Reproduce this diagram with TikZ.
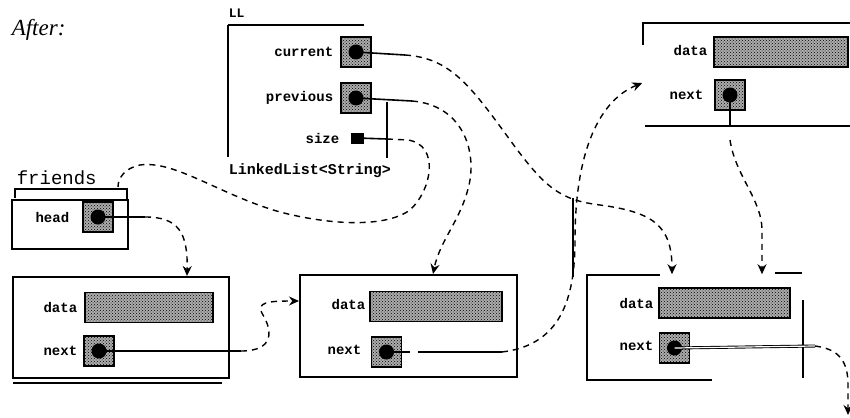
\documentclass[tikz,border=0pt]{standalone}
\usepackage{fontspec}
\setmainfont{Liberation Serif}
\newfontfamily\labfont{Liberation Mono}
\newfontfamily\monofont{Liberation Mono}
\usetikzlibrary{patterns,arrows.meta}
\begin{document}
\begin{tikzpicture}[x=1pt,y=-1pt,line width=1.6pt,
 ptrbox/.style={draw,line width=1.6pt,preaction={fill=gray!65},pattern=crosshatch dots,minimum width=30pt,minimum height=30pt,inner sep=0pt},
 strbox/.style={draw,line width=1.6pt,preaction={fill=gray!65},pattern=crosshatch dots,minimum height=30pt,inner sep=0pt},
 lab/.style={font=\labfont\bfseries\fontsize{14}{16}\selectfont,anchor=east,inner sep=0pt},
 objbox/.style={draw,line width=2pt,inner sep=0pt},
 hidbox/.style={inner sep=0pt},
 dsh/.style={line width=1.4pt,dash pattern=on 6pt off 5pt},
 tip/.style={-{Stealth[length=10pt,width=9pt]}},
 blob/.style={circle,fill=black,inner sep=0pt,minimum size=15pt}]
\useasboundingbox (0,0) rectangle (850,417);

\node[anchor=west,inner sep=0pt,font=\itshape\fontsize{23}{26}\selectfont] (after) at (11,30) {After:};

% ---- LL object
\node[anchor=west,inner sep=0pt,font=\labfont\bfseries\fontsize{13}{15}\selectfont] (lltitle) at (228,13) {LL};
\draw[line width=2pt] (228,25) -- (364,25);
\draw[line width=2pt] (228,25) -- (228,157);
\node[ptrbox] (cur) at (356,52) {};
\node[blob] (curD) at (cur.center) {};
\node[lab] (curL) at (334,52) {current};
\node[ptrbox] (prev) at (356,98) {};
\node[blob] (prevD) at (prev.center) {};
\node[lab] (prevL) at (334,98) {previous};
\node[fill=black,minimum width=13pt,minimum height=11pt,inner sep=0pt] (sz) at (357,138) {};
\node[lab] (szL) at (340,138) {size};
\node[anchor=west,inner sep=0pt,font=\labfont\bfseries\fontsize{15}{17}\selectfont] (llcls) at (228,171) {LinkedList<String>};
\draw[line width=1.6pt] (387,102) -- (387,158);

% ---- friends
\node[anchor=west,inner sep=0pt,font=\monofont\fontsize{19}{21}\selectfont] (frT) at (16,178) {friends};
\node[objbox,minimum width=116pt,minimum height=49pt] (fb) at (70,224.5) {};
\draw[line width=1.2pt] (15,198) -- (15,189) -- (127,189) -- (127,199);
\node[ptrbox] (fr) at (98,217) {};
\node[blob] (frD) at (fr.center) {};
\node[lab] (frL) at (70,217) {head};

% ---- node 1
\node[objbox,minimum width=216pt,minimum height=101pt] (n1) at (121,327.5) {};
\draw[line width=2pt] (13,383) -- (222,383);
\node[strbox,minimum width=128pt] (n1d) at (149,307.5) {};
\node[lab] (n1dL) at (78,307) {data};
\node[ptrbox] (n1n) at (99,351) {};
\node[blob] (n1nD) at (n1n.center) {};
\node[lab] (n1nL) at (78,351) {next};

% ---- node 2
\node[objbox,minimum width=217pt,minimum height=102pt] (n2) at (408.5,326) {};
\node[strbox,minimum width=132pt] (n2d) at (436,306.5) {};
\node[lab] (n2dL) at (366,304) {data};
\node[ptrbox] (n2n) at (386.5,352) {};
\node[blob] (n2nD) at (n2n.center) {};
\node[lab] (n2nL) at (362,350) {next};

% ---- node 0 (top right)
\node[hidbox,minimum width=207pt,minimum height=103pt] (n0) at (746.5,74.5) {};
\draw[line width=2pt] (643,45) -- (643,23) -- (850,23);
\draw[line width=2pt] (645,126) -- (850,126);
\node[strbox,minimum width=134pt] (n0d) at (781,52) {};
\node[lab] (n0dL) at (708,50) {data};
\node[ptrbox] (n0n) at (730,95) {};
\node[blob] (n0nD) at (n0n.center) {};
\node[lab] (n0nL) at (704,95) {next};

% ---- node 3
\node[hidbox,minimum width=216pt,minimum height=104pt] (n3) at (695,327) {};
\draw[line width=2pt] (660,275) -- (587,275) -- (587,380) -- (712,380);
\draw[line width=2pt] (775,273) -- (802,273);
\draw[line width=1.6pt] (803,300) -- (803,378);
\node[strbox,minimum width=131pt] (n3d) at (724.5,303) {};
\node[lab] (n3dL) at (654,303) {data};
\node[ptrbox] (n3n) at (674.5,348) {};
\node[blob] (n3nD) at (n3n.center) {};
\node[lab] (n3nL) at (654,346) {next};

% ---- connectors
\coordinate (frA) at (145,217);
\draw (frD.center) -- (frA);
\draw[dsh,tip] (frA) .. controls (178,217) and (188,232) .. ([xshift=175pt]n1.north west);

\coordinate (n1A) at (241,351);
\draw (n1nD.center) -- (n1A);
\draw[dsh,tip] (n1A) .. controls (275,351) and (272,330) .. (263,315)
  .. controls (255,302) and (268,301) .. ([yshift=25pt]n2.west);

\coordinate (n2A) at (410,352);
\coordinate (n2B) at (418,352);
\coordinate (n2C) at (502,352);
\draw (n2nD.center) -- (n2A);
\draw (n2B) -- (n2C);
\draw[dsh,tip] (n2C) .. controls (560,345) and (575,300) .. (575,240)
  .. controls (575,150) and (600,100) .. ([yshift=-8.5pt]n0.west);
\draw[line width=1.6pt] (573,198) -- (573,277);

\coordinate (n0A) at (730,140);
\draw (n0nD.center) -- (730,126);
\draw[dsh,tip] (n0A) .. controls (735,175) and (762,200) .. (762,230) -- ([xshift=67pt]n3.north);

\coordinate (curA) at (405,55);
\draw (curD.center) -- (curA);
\draw[dsh,tip] (curA) .. controls (450,58) and (470,85) .. (510,140)
  .. controls (545,188) and (560,200) .. (600,205)
  .. controls (652,212) and (672,225) .. ([xshift=-23pt]n3.north);

\coordinate (prevA) at (412,101);
\draw (prevD.center) -- (prevA);
\draw[dsh,tip] (prevA) .. controls (462,105) and (477,150) .. (469,185)
  .. controls (461,220) and (440,240) .. ([xshift=24.5pt]n2.north);

\coordinate (szA) at (387,139);
\draw (sz.center) -- (szA);
\draw[dsh] (szA) -- (408,140) .. controls (440,145) and (432,190) .. (410,210)
  .. controls (385,228) and (330,225) .. (280,212)
  .. controls (220,195) and (175,160) .. (140,165)
  .. controls (125,168) and (118,178) .. ([xshift=-11pt,yshift=12pt]fb.north east);

\coordinate (n3A) at (815,346);
\coordinate (nullP) at (848,415);
\draw[double,double distance=1.2pt,line width=0.9pt] (n3nD.center) -- (n3A);
\draw[dsh,tip] (n3A) .. controls (838,349) and (848,360) .. (848,385) -- (nullP);
\end{tikzpicture}
\end{document}
